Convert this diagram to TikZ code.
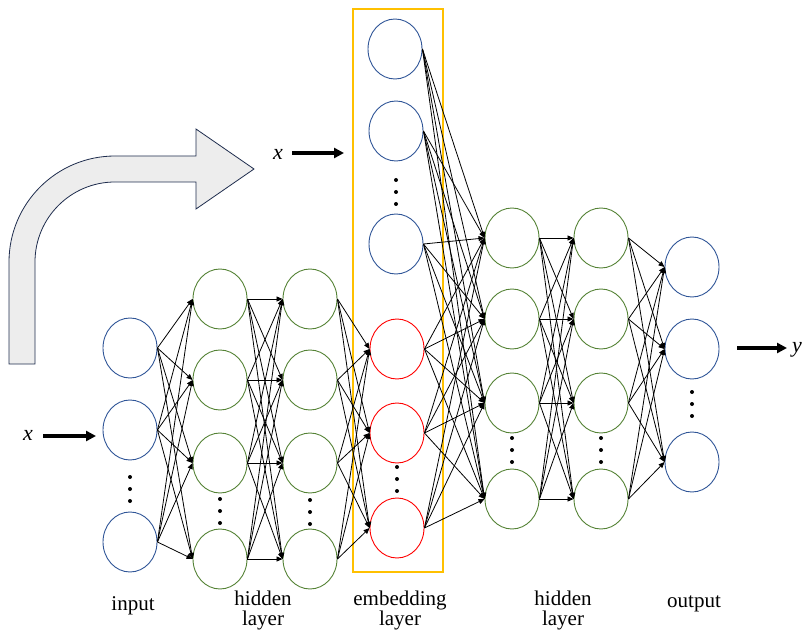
\documentclass[tikz,border=0pt]{standalone}
\usepackage{fontspec}
\setmainfont{Liberation Serif}
\usetikzlibrary{shapes.geometric,arrows.meta}

\definecolor{nodeblue}{HTML}{2F5597}
\definecolor{nodegreen}{HTML}{548235}
\definecolor{nodered}{HTML}{FF0000}
\definecolor{boxorange}{HTML}{FFC000}
\definecolor{bendfill}{HTML}{EDEDED}
\definecolor{bendline}{HTML}{1F2D4E}

\begin{document}
\begin{tikzpicture}[x=1pt,y=-1pt,
  neuron/.style={ellipse,draw,line width=0.9pt,minimum width=54pt,minimum height=60pt,inner sep=0pt},
  inneuron/.style={neuron,draw=nodeblue},
  hidneuron/.style={neuron,draw=nodegreen},
  embneuron/.style={neuron,draw=nodered},
  link/.style={line width=0.8pt,-{Triangle[length=6pt,width=5pt]}},
  bigarrow/.style={line width=3.2pt,-{Triangle[length=10pt,width=10pt]}},
  lbl/.style={font=\fontsize{21}{20}\selectfont,align=center,inner sep=0pt},
  vlabel/.style={font=\fontsize{22}{22}\selectfont\itshape,inner sep=0pt},
  dot/.style={circle,fill,inner sep=0pt,minimum size=4pt}
]
\useasboundingbox (0,0) rectangle (803,631);

% curved block arrow
\draw[bendline,fill=bendfill,line width=0.8pt]
  (9,364) -- (9,262) arc[start angle=180,end angle=90,radius=106pt]
  -- (196,156) -- (196,129) -- (254,169) -- (196,209) -- (196,182)
  -- (115,182) arc[start angle=90,end angle=180,radius=80pt]
  -- (35,364) -- cycle;

% embedding layer frame
\draw[boxorange,line width=1.3pt] (353,9) rectangle (443,572);

% input layer
\node[inneuron] (in1) at (130,348) {};
\node[inneuron] (in2) at (130,430) {};
\node[inneuron] (in3) at (130,542) {};

% first hidden block
\foreach \n/\y in {a/299,b/380,c/463,d/559}{
  \node[hidneuron] (h1\n) at (220,\y) {};
  \node[hidneuron] (h2\n) at (310,\y) {};
}

% embedding layer
\node[inneuron] (e1) at (395,49) {};
\node[inneuron] (e2) at (396,131) {};
\node[inneuron] (e3) at (396,244) {};
\node[embneuron] (r1) at (397,349) {};
\node[embneuron] (r2) at (397,433) {};
\node[embneuron] (r3) at (397,528) {};

% second hidden block
\foreach \n/\y in {a/238,b/319,c/403,d/499}{
  \node[hidneuron] (h3\n) at (512,\y) {};
  \node[hidneuron] (h4\n) at (601,\y) {};
}

% output layer
\node[inneuron] (o1) at (692,267) {};
\node[inneuron] (o2) at (692,349) {};
\node[inneuron] (o3) at (692,462) {};

% ellipsis dots
\foreach \x/\y in {130/477,220/499,310/500,396/180,397/467,512/438,601/438,692/392}{
  \foreach \k in {0,1,2}{
    \node[dot] at (\x,\y+12*\k) {};
  }
}

% connections
\foreach \s in {in1,in2,in3}
  \foreach \t in {h1a,h1b,h1c,h1d}
    \draw[link] (\s.east) -- (\t.west);
\foreach \s in {h1a,h1b,h1c,h1d}
  \foreach \t in {h2a,h2b,h2c,h2d}
    \draw[link] (\s.east) -- (\t.west);
\foreach \s in {h2a,h2b,h2c,h2d}
  \foreach \t in {r1,r2,r3}
    \draw[link] (\s.east) -- (\t.west);
\foreach \s in {e1,e2,e3,r1,r2,r3}
  \foreach \t in {h3a,h3b,h3c,h3d}
    \draw[link] (\s.east) -- (\t.west);
\foreach \s in {h3a,h3b,h3c,h3d}
  \foreach \t in {h4a,h4b,h4c,h4d}
    \draw[link] (\s.east) -- (\t.west);
\foreach \s in {h4a,h4b,h4c,h4d}
  \foreach \t in {o1,o2,o3}
    \draw[link] (\s.east) -- (\t.west);

% inputs and output
\node[vlabel] (xin) at (28,435) {x};
\coordinate (xinstart) at (43,436);
\coordinate (xinend) at (96,436);
\draw[bigarrow] (xinstart) -- (xinend);
\node[vlabel] (xtop) at (278,154) {x};
\coordinate (xtopstart) at (292,153);
\coordinate (xtopend) at (344,153);
\draw[bigarrow] (xtopstart) -- (xtopend);
\node[vlabel,anchor=east] (yout) at (802,350) {y};
\coordinate (youtstart) at (737,348);
\coordinate (youtend) at (787,348);
\draw[bigarrow] (youtstart) -- (youtend);

% layer captions
\node[lbl] (capin) at (133,606) {input};
\node[lbl] (caph1) at (263,610) {hidden\\layer};
\node[lbl] (capemb) at (400,610) {embedding\\layer};
\node[lbl] (caph2) at (563,610) {hidden\\layer};
\node[lbl] (capout) at (694,604) {output};
\end{tikzpicture}
\end{document}
